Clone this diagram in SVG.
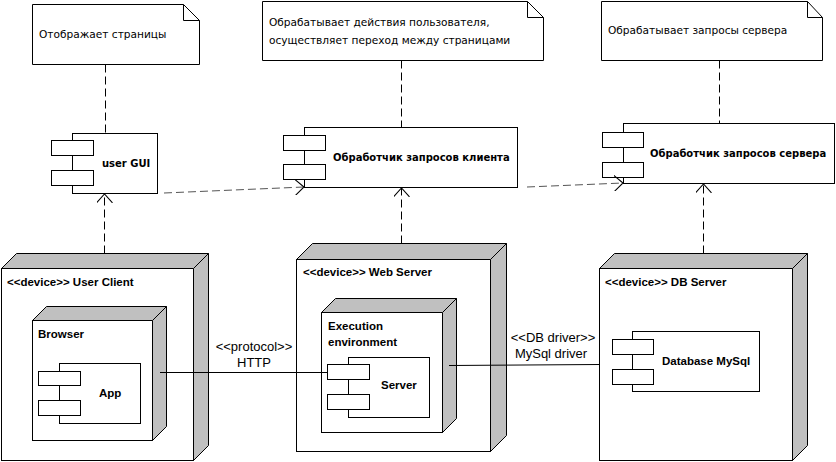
<svg xmlns="http://www.w3.org/2000/svg" width="836" height="462" viewBox="0 0 836 462">
<defs>
<style>
.ln{fill:none;stroke:#000;stroke-width:1}
.box{fill:#fff;stroke:#000;stroke-width:1}
.side{fill:#c0c0c0;stroke:#000;stroke-width:1;stroke-linejoin:miter}
.dash{fill:none;stroke:#000;stroke-width:1;stroke-dasharray:8,4}
.dep{fill:none;stroke:#555;stroke-width:1;stroke-dasharray:8,4}
.note{font-family:"DejaVu Sans",Verdana,sans-serif;font-size:10.6px;fill:#000}
.cl{font-family:"DejaVu Sans",Verdana,sans-serif;font-size:10px;font-weight:bold;fill:#000}
.nl{font-family:"Liberation Sans",Arial,sans-serif;font-size:11.5px;font-weight:bold;fill:#000}
.el{font-family:"Liberation Sans",Arial,sans-serif;font-size:13px;fill:#000}
</style>
<marker id="open" viewBox="0 0 10 18" refX="10" refY="9" markerWidth="9" markerHeight="16" markerUnits="userSpaceOnUse" orient="auto">
<path d="M0,0 L10,9 L0,18" fill="none" stroke="#000" stroke-width="1.2"/>
</marker>
</defs>

<!-- Notes -->
<g id="note1">
<path class="box" d="M32.5,4.5 H183.5 L199.5,20.5 V64.5 H32.5 Z"/>
<path class="ln" d="M183.5,4.5 V20.5 H199.5"/>
<text class="note" x="39" y="38">Отображает страницы</text>
</g>
<g id="note2">
<path class="box" d="M262.5,1.5 H527.5 L543.5,17.5 V60.5 H262.5 Z"/>
<path class="ln" d="M527.5,1.5 V17.5 H543.5"/>
<text class="note" x="269" y="26">Обрабатывает действия пользователя,</text>
<text class="note" x="269" y="44">осуществляет переход между страницами</text>
</g>
<g id="note3">
<path class="box" d="M601.5,1.5 H807.5 L822.5,17.5 V60.5 H601.5 Z"/>
<path class="ln" d="M807.5,1.5 V17.5 H822.5"/>
<text class="note" x="608" y="34">Обрабатывает запросы сервера</text>
</g>

<!-- Components (top) -->
<g id="userGUI">
<rect class="box" x="72.5" y="133.5" width="85" height="60"/>
<rect class="box" x="51.5" y="140.5" width="42" height="15"/>
<rect class="box" x="51.5" y="170.5" width="42" height="15"/>
<text class="cl" x="102" y="167">user GUI</text>
</g>
<g id="clientHandler">
<rect class="box" x="304.5" y="127.5" width="213" height="60"/>
<rect class="box" x="283.5" y="135.5" width="42" height="15"/>
<rect class="box" x="283.5" y="164.5" width="42" height="15"/>
<text class="cl" x="333" y="161">Обработчик запросов клиента</text>
</g>
<g id="serverHandler">
<rect class="box" x="623.5" y="123.5" width="211" height="60"/>
<rect class="box" x="602.5" y="132.5" width="41" height="15"/>
<rect class="box" x="602.5" y="162.5" width="41" height="15"/>
<text class="cl" x="650" y="157">Обработчик запросов сервера</text>
</g>

<!-- Devices -->
<g id="userClient">
<rect class="box" x="1.5" y="268.5" width="192" height="192"/>
<path class="side" d="M1.5,268.5 L16.5,253.5 H208.5 L193.5,268.5 Z"/>
<path class="side" d="M193.5,268.5 L208.5,253.5 V445.5 L193.5,460.5 Z"/>
<text class="nl" x="7" y="286">&lt;&lt;device&gt;&gt; User Client</text>
</g>
<g id="browser">
<rect class="box" x="32.5" y="320.5" width="120" height="120"/>
<path class="side" d="M32.5,320.5 L46.5,306.5 H166.5 L152.5,320.5 Z"/>
<path class="side" d="M152.5,320.5 L166.5,306.5 V426.5 L152.5,440.5 Z"/>
<text class="nl" x="38" y="338">Browser</text>
</g>
<g id="app">
<rect class="box" x="59.5" y="363.5" width="81" height="60"/>
<rect class="box" x="38.5" y="371.5" width="42" height="14"/>
<rect class="box" x="38.5" y="400.5" width="42" height="15"/>
<text class="nl" x="99" y="397">App</text>
</g>

<g id="webServer">
<rect class="box" x="296.5" y="259.5" width="194" height="192"/>
<path class="side" d="M296.5,259.5 L312.5,243.5 H506.5 L490.5,259.5 Z"/>
<path class="side" d="M490.5,259.5 L506.5,243.5 V435.5 L490.5,451.5 Z"/>
<text class="nl" x="303" y="276">&lt;&lt;device&gt;&gt; Web Server</text>
</g>
<g id="execEnv">
<rect class="box" x="321.5" y="312.5" width="121" height="120"/>
<path class="side" d="M321.5,312.5 L335.5,298.5 H456.5 L442.5,312.5 Z"/>
<path class="side" d="M442.5,312.5 L456.5,298.5 V418.5 L442.5,432.5 Z"/>
<text class="nl" x="328" y="330">Execution</text>
<text class="nl" x="328" y="346">environment</text>
</g>
<g id="server">
<rect class="box" x="348.5" y="357.5" width="81" height="60"/>
<rect class="box" x="327.5" y="364.5" width="42" height="15"/>
<rect class="box" x="327.5" y="394.5" width="42" height="15"/>
<text class="nl" x="381" y="389">Server</text>
</g>

<g id="dbServer">
<rect class="box" x="599.5" y="268.5" width="193" height="192"/>
<path class="side" d="M599.5,268.5 L614.5,253.5 H807.5 L792.5,268.5 Z"/>
<path class="side" d="M792.5,268.5 L807.5,253.5 V445.5 L792.5,460.5 Z"/>
<text class="nl" x="605" y="286">&lt;&lt;device&gt;&gt; DB Server</text>
</g>
<g id="databaseMySql">
<rect class="box" x="632.5" y="331.5" width="127" height="60"/>
<rect class="box" x="612.5" y="339.5" width="41" height="15"/>
<rect class="box" x="612.5" y="369.5" width="41" height="15"/>
<text class="nl" x="662" y="365">Database MySql</text>
</g>

<!-- Connectors -->
<g id="connectors">
<line class="dash" x1="105.5" y1="64.5" x2="105.5" y2="133.5"/>
<line class="dash" x1="401.5" y1="60.5" x2="401.5" y2="127.5"/>
<line class="dash" x1="719.5" y1="60.5" x2="719.5" y2="123.5"/>
<line class="dash" x1="104.5" y1="253.5" x2="104.5" y2="194" marker-end="url(#open)"/>
<line class="dash" x1="401.5" y1="243.5" x2="401.5" y2="188" marker-end="url(#open)"/>
<line class="dash" x1="703.5" y1="253.5" x2="703.5" y2="184" marker-end="url(#open)"/>
<line class="dep" x1="164" y1="193" x2="304" y2="187" marker-end="url(#open)"/>
<line class="dep" x1="527" y1="187" x2="623" y2="183" marker-end="url(#open)"/>
<line class="ln" x1="160" y1="372.5" x2="327.5" y2="372.5"/>
<line class="ln" x1="449" y1="365.5" x2="599.5" y2="364.5"/>
<text class="el" x="254" y="351" text-anchor="middle">&lt;&lt;protocol&gt;&gt;</text>
<text class="el" x="254" y="367" text-anchor="middle">HTTP</text>
<text class="el" x="553" y="342" text-anchor="middle">&lt;&lt;DB driver&gt;&gt;</text>
<text class="el" x="551" y="358" text-anchor="middle">MySql driver</text>
</g>
</svg>
